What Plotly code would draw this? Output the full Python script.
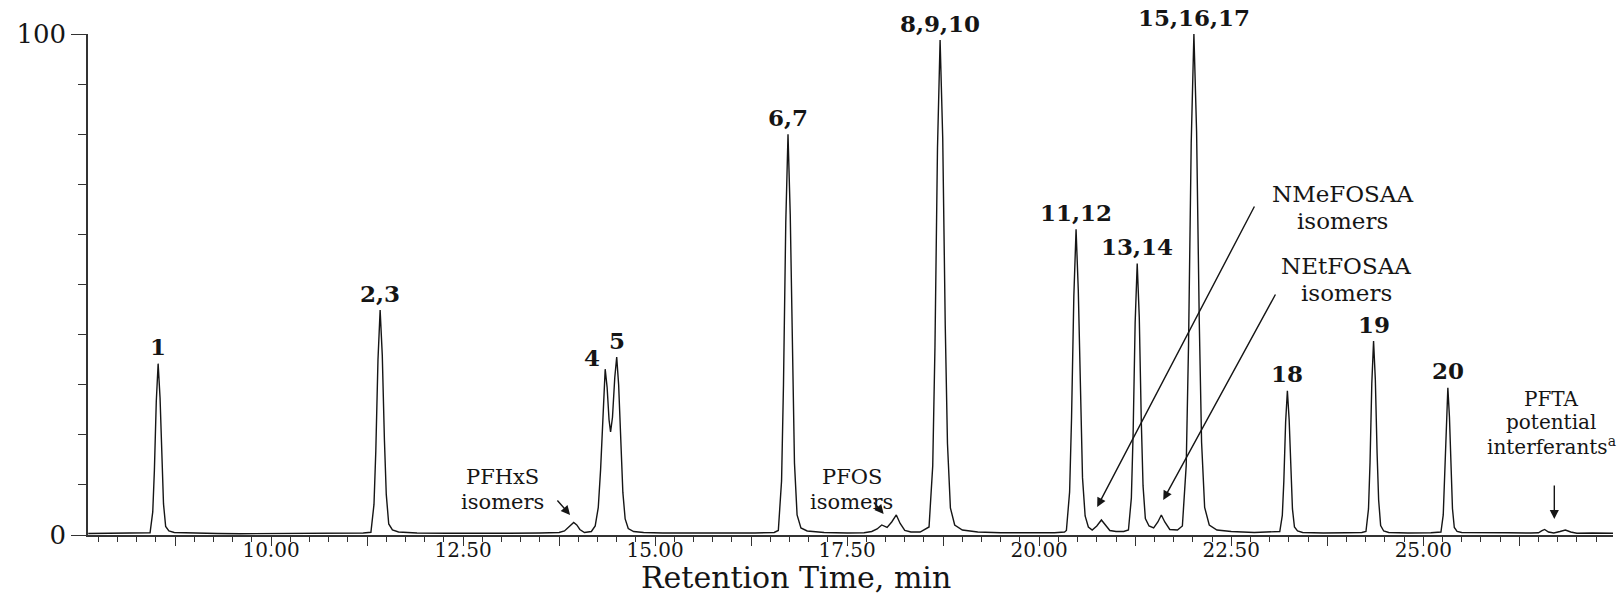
import plotly.graph_objects as go

# Chromatogram trace: retention time (min) and relative abundance (%) vertices
rt_min = [
    7.62, 7.90, 8.15, 8.35,
    8.425, 8.46, 8.481, 8.506, 8.53, 8.555, 8.579, 8.60, 8.628, 8.67, 8.74,
    9.00, 9.30, 9.60, 10.00, 10.50, 10.90, 11.20,
    11.30, 11.34, 11.364, 11.392, 11.42, 11.448, 11.476, 11.50, 11.532, 11.58, 11.66,
    11.90, 12.30, 12.70, 13.10, 13.50, 13.75,
    13.82, 13.87, 13.91, 13.94, 13.98, 14.02, 14.08,
    14.17, 14.22, 14.26, 14.29, 14.32, 14.35, 14.375, 14.40, 14.42, 14.445, 14.475,
    14.50, 14.525, 14.55, 14.58, 14.61, 14.65, 14.72, 14.85,
    15.10, 15.50, 15.90, 16.30, 16.55,
    16.604, 16.646, 16.671, 16.701, 16.73, 16.759, 16.789, 16.814, 16.848, 16.898, 16.98,
    17.20, 17.50, 17.72,
    17.82, 17.89, 17.95, 18.02, 18.08, 18.14, 18.19, 18.25, 18.33, 18.45,
    18.566, 18.614, 18.643, 18.676, 18.71, 18.744, 18.777, 18.806, 18.844, 18.90, 19.00,
    19.20, 19.50, 19.90, 20.20, 20.33,
    20.354, 20.396, 20.421, 20.451, 20.48, 20.509, 20.539, 20.564, 20.598, 20.64,
    20.69, 20.75, 20.81, 20.86, 20.92, 21.00, 21.10,
    21.162, 21.20, 21.223, 21.249, 21.276, 21.303, 21.329, 21.352, 21.382, 21.43,
    21.49, 21.545, 21.59, 21.635, 21.70, 21.80,
    21.864, 21.914, 21.944, 21.979, 22.014, 22.049, 22.084, 22.114, 22.154, 22.214, 22.314,
    22.50, 22.80, 23.05,
    23.132, 23.165, 23.185, 23.208, 23.231, 23.254, 23.277, 23.297, 23.323, 23.363, 23.43,
    23.70, 24.00, 24.20,
    24.254, 24.287, 24.307, 24.33, 24.353, 24.376, 24.399, 24.419, 24.445, 24.485, 24.55,
    24.80, 25.10,
    25.23, 25.26, 25.278, 25.299, 25.32, 25.341, 25.362, 25.38, 25.404, 25.44, 25.50,
    25.80, 26.10, 26.40, 26.50,
    26.54, 26.58, 26.63, 26.70, 26.78, 26.85, 26.92, 27.00, 27.20, 27.47,
]
abundance = [
    0.30, 0.35, 0.30, 0.35,
    0.45, 4.6, 12.8, 26.7, 34.2, 27.4, 14.4, 6.2, 1.7, 0.8, 0.5,
    0.35, 0.30, 0.25, 0.30, 0.30, 0.35, 0.40,
    0.55, 6.1, 16.8, 35.0, 44.9, 35.9, 18.9, 8.1, 2.2, 1.0, 0.6,
    0.40, 0.35, 0.30, 0.35, 0.40, 0.50,
    0.8, 1.5, 2.2, 2.5, 2.0, 1.1, 0.5,
    0.7, 1.8, 5.5, 13.0, 24.0, 33.1, 29.5, 23.0, 20.6, 23.5, 31.5,
    35.5, 30.0, 19.0, 8.5, 3.2, 1.3, 0.7, 0.5,
    0.40, 0.35, 0.40, 0.40, 0.50,
    0.9, 10.8, 30.0, 62.4, 80.0, 64.0, 33.6, 14.4, 4.0, 1.4, 0.8,
    0.50, 0.40, 0.45,
    0.7, 1.2, 2.0, 1.5, 2.6, 4.0, 2.3, 0.9, 0.6, 0.6,
    1.6, 13.8, 37.5, 77.3, 98.8, 79.3, 41.8, 18.2, 5.4, 2.0, 1.0,
    0.6, 0.45, 0.40, 0.45, 0.6,
    0.9, 8.6, 23.2, 47.7, 61.0, 48.8, 25.8, 11.4, 3.8, 1.6,
    1.0, 1.8, 3.0, 2.0, 0.9, 0.7, 0.7,
    1.0, 7.4, 20.4, 42.3, 54.2, 43.4, 22.8, 9.8, 3.3, 1.8,
    1.4, 2.6, 4.0, 2.6, 1.1, 1.0,
    1.8, 13.9, 37.8, 78.2, 100.0, 80.5, 42.5, 18.5, 5.5, 2.0, 1.0,
    0.7, 0.5, 0.55,
    0.7, 3.9, 10.8, 22.5, 28.8, 23.0, 12.1, 5.2, 1.6, 0.8, 0.5,
    0.40, 0.45, 0.50,
    0.7, 5.2, 14.5, 30.2, 38.7, 31.0, 16.3, 7.0, 1.9, 0.8, 0.5,
    0.40, 0.45,
    0.6, 4.0, 11.0, 22.9, 29.4, 23.5, 12.3, 5.3, 1.5, 0.7, 0.5,
    0.40, 0.45, 0.40, 0.45,
    0.8, 1.1, 0.6, 0.4, 0.7, 1.0, 0.6, 0.35, 0.40, 0.35,
]

# Numbered analyte peaks
peak_ids = ["1", "2,3", "4", "5", "6,7", "8,9,10", "11,12", "13,14",
            "15,16,17", "18", "19", "20"]
peak_rt = [8.53, 11.42, 14.35, 14.50, 16.73, 18.71, 20.48, 21.276,
           22.014, 23.231, 24.353, 25.32]
peak_top = [34.2, 44.9, 33.1, 35.5, 80.0, 98.8, 61.0, 54.2,
            100.0, 28.8, 38.7, 29.4]

# Axis ticks
x_tick_vals = [8.75, 10.0, 11.25, 12.5, 13.75, 15.0, 16.25, 17.5, 18.75,
               20.0, 21.25, 22.5, 23.75, 25.0, 26.25]
x_tick_text = ["", "10.00", "", "12.50", "", "15.00", "", "17.50", "",
               "20.00", "", "22.50", "", "25.00", ""]
y_tick_vals = [0, 100]
y_tick_text = ["0", "100"]

SERIF = "DejaVu Serif"
INK = "#151515"

fig = go.Figure()
fig.add_trace(go.Scatter(
    x=rt_min, y=abundance, mode="lines",
    line=dict(color=INK, width=1.4), hoverinfo="skip",
))

annotations = []

# Peak numbers above the apexes
label_shift = {"4": (-13, 12)}
for pid, rt, top in zip(peak_ids, peak_rt, peak_top):
    dx, dy = label_shift.get(pid, (0, 17))
    annotations.append(dict(
        x=rt, y=top, text=f"<b>{pid}</b>", showarrow=False,
        xanchor="center", yanchor="middle", xshift=dx, yshift=dy,
        font=dict(family=SERIF, size=23, color=INK),
    ))

# Isomer / interferant callouts (one annotation per text line)
callout_lines = [
    ("PFHxS", 13.01, 11.6, 21),
    ("isomers", 13.01, 6.6, 21),
    ("PFOS", 17.56, 11.6, 21),
    ("isomers", 17.56, 6.6, 21),
    ("NMeFOSAA", 23.945, 68.1, 23),
    ("isomers", 23.945, 62.7, 23),
    ("NEtFOSAA", 23.997, 53.7, 23),
    ("isomers", 23.997, 48.3, 23),
    ("PFTA", 26.667, 27.2, 20),
    ("potential", 26.667, 22.5, 20),
    ("interferants<sup>a</sup>", 26.667, 17.8, 20),
]
for text, x, y, size in callout_lines:
    annotations.append(dict(
        x=x, y=y, text=text, showarrow=False, xanchor="center", yanchor="middle",
        borderpad=0, font=dict(family=SERIF, size=size, color=INK),
    ))

# Arrows pointing at the minor peaks: tip position and tail offset in px
arrows = [
    (13.893, 4.0, -14, -16),
    (17.975, 4.2, -11, -13),
    (20.755, 5.59, 158, -302),
    (21.615, 6.99, 113, -207),
    (26.706, 3.19, 0, -35),
]
for x, y, ax, ay in arrows:
    annotations.append(dict(
        x=x, y=y, ax=ax, ay=ay, text="", showarrow=True,
        arrowhead=2, arrowsize=1.3, arrowwidth=1.4, arrowcolor=INK, standoff=0,
    ))

# Axis title
annotations.append(dict(
    x=0.4643, y=-0.1218, xref="paper", yref="paper", text="Retention Time, min",
    showarrow=False, xanchor="center", yanchor="bottom", borderpad=0,
    font=dict(family=SERIF, size=30, color=INK),
))

fig.update_layout(
    width=1621, height=596,
    margin=dict(l=88, r=8, t=34, b=61),
    plot_bgcolor="white", paper_bgcolor="white",
    showlegend=False,
    font=dict(family=SERIF, color=INK),
    annotations=annotations,
    xaxis=dict(
        range=[7.617, 27.47], showgrid=False, zeroline=False,
        showline=True, linecolor="#333", linewidth=1.5,
        ticks="outside", ticklen=9, tickwidth=1.2, tickcolor="#333",
        tickvals=x_tick_vals, ticktext=x_tick_text,
        tickfont=dict(family=SERIF, size=20, color=INK),
        ticklabelstandoff=-13,
        minor=dict(dtick=0.25, tick0=0, ticks="outside", ticklen=5,
                   tickwidth=1, tickcolor="#333"),
    ),
    yaxis=dict(
        range=[0, 100], showgrid=False, zeroline=False,
        showline=True, linecolor="#333", linewidth=1.5,
        ticks="outside", ticklen=15, tickwidth=1.2, tickcolor="#333",
        tickvals=y_tick_vals, ticktext=y_tick_text,
        tickfont=dict(family=SERIF, size=26, color=INK),
        minor=dict(dtick=10, tick0=0, ticks="outside", ticklen=8,
                   tickwidth=1, tickcolor="#333"),
    ),
)

fig.write_html("out.html")
